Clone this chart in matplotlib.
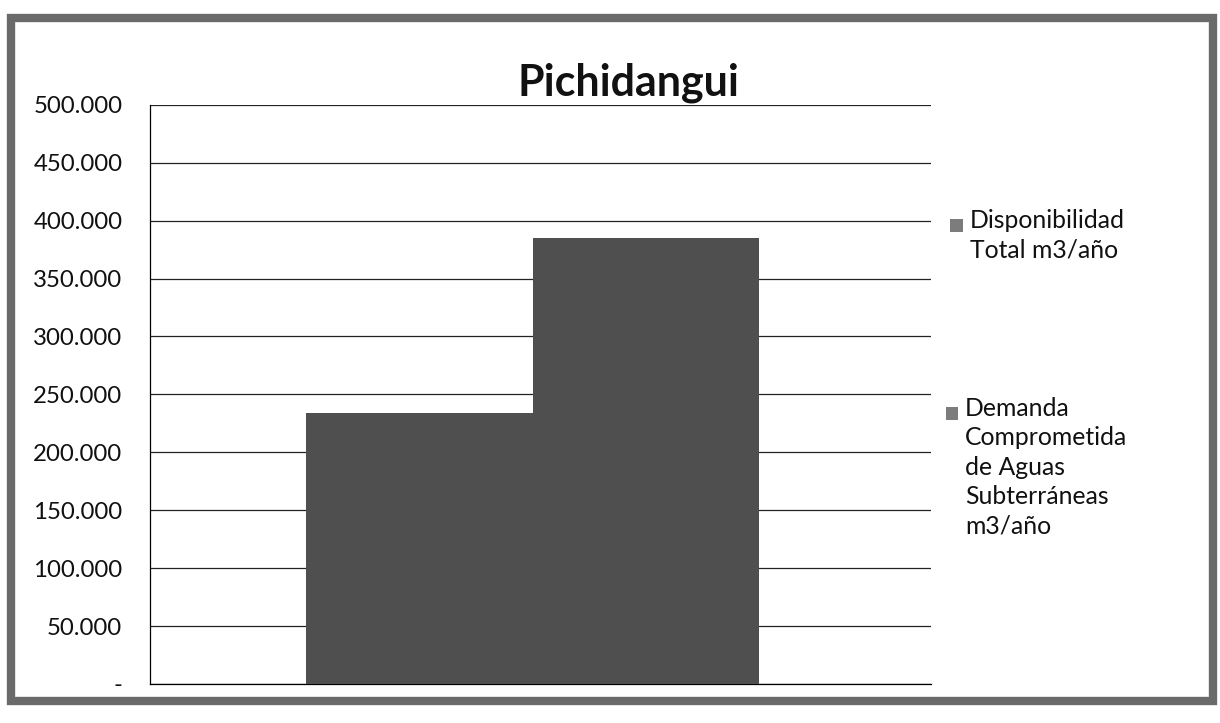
import matplotlib
matplotlib.use('Agg')
import matplotlib.pyplot as plt
from matplotlib.patches import Rectangle
from matplotlib.ticker import FuncFormatter
import numpy as np

# datos del grafico
titulo = 'Pichidangui'
series = ['Disponibilidad\nTotal m3/año',
          'Demanda\nComprometida\nde Aguas\nSubterráneas\nm3/año']
valores = [234000, 385000]
colores = ['#4f4f4f', '#4f4f4f']
marcas = ['#7c7c7c', '#7c7c7c']
yticks = np.arange(0, 500001, 50000)

plt.rcParams['font.family'] = ['Lato', 'DejaVu Sans']

fig = plt.figure(figsize=(12.2, 7.23), dpi=100, facecolor='white')
ax = fig.add_axes([0.123, 0.054, 0.640, 0.801])

ancho = 0.29
offs = [-ancho/2, ancho/2]
for i, v in enumerate(valores):
    ax.bar(0 + offs[i], v, width=ancho, color=colores[i], zorder=3)

ax.set_xlim(-0.49, 0.51)
ax.set_ylim(0, 500000)
ax.set_yticks(yticks)
ax.yaxis.set_major_formatter(FuncFormatter(
    lambda v, p: '-' if v == 0 else f'{int(v):,}'.replace(',', '.')))
ax.set_xticks([])
ax.tick_params(axis='y', length=0, pad=20, labelsize=17.3, colors='#111111')
ax.grid(axis='y', color='#222222', linewidth=0.9, zorder=0)
for s in ['top', 'right']:
    ax.spines[s].set_visible(False)
ax.spines['left'].set_linewidth(0.9)
ax.spines['bottom'].set_linewidth(0.9)

fig.text(0.515, 0.886, titulo, ha='center', va='center',
         fontsize=31, fontweight='bold', color='#111111')

# leyenda a mano (marca alineada con la primera linea)
leg_pos = [(0.779, 0.697), (0.775, 0.437)]
for i, lab in enumerate(series):
    x, y = leg_pos[i]
    fig.patches.append(Rectangle((x, y - 0.018), 0.0105, 0.018,
                                 transform=fig.transFigure,
                                 facecolor=marcas[i], edgecolor='none'))
    fig.text(x + 0.016, y + 0.014, lab, ha='left', va='top',
             fontsize=17.8, linespacing=1.34, color='#111111')

# marco exterior
fig.patches.append(Rectangle((0.009, 0.030), 0.985, 0.945,
                             transform=fig.transFigure, fill=False,
                             edgecolor='#6a6a6a', linewidth=6))

fig.savefig('out.png', dpi=100, facecolor='white')
